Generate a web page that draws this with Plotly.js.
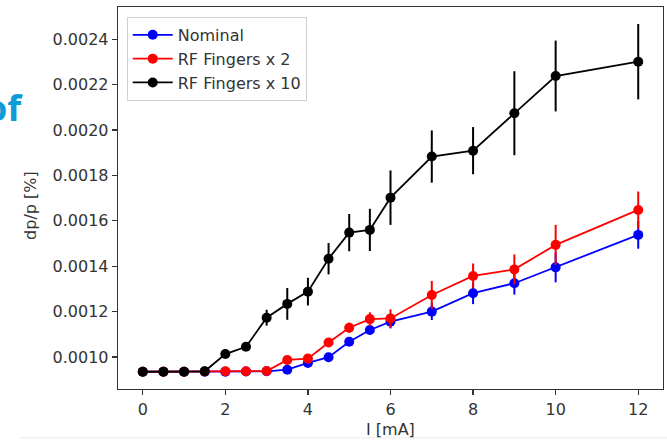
<!DOCTYPE html>
<html>
<head>
<meta charset="utf-8">
<script src="https://cdn.plot.ly/plotly-3.0.1.min.js"></script>
<style>
  html, body { margin: 0; padding: 0; background: #ffffff; }
  #chart { width: 667px; height: 440px; }
</style>
</head>
<body>
<div id="chart"></div>
<script>
// Beam current in mA
const current = [0, 0.5, 1, 1.5, 2, 2.5, 3, 3.5, 4, 4.5, 5, 5.5, 6, 7, 8, 9, 10, 12];

// Energy spread dp/p for each impedance model
const nominal = [0.000935, 0.000935, 0.000935, 0.000935, 0.000935, 0.000936, 0.000937, 0.000944, 0.000974, 0.000999,
                 0.001067, 0.001119, 0.001156, 0.001200, 0.001281, 0.001325, 0.001395, 0.001538];
const nominalErr = [0, 0, 0, 0, 0, 0, 0, 0.000005, 0.000008, 0.00001,
                    0.000012, 0.00002, 0.00003, 0.000037, 0.000048, 0.00005, 0.000066, 0.000061];

const fingers2 = [0.000935, 0.000935, 0.000935, 0.000936, 0.000937, 0.000937, 0.000938, 0.000987, 0.000993, 0.001064,
                  0.001129, 0.001167, 0.001170, 0.001273, 0.001357, 0.001386, 0.001494, 0.001648];
const fingers2Err = [0, 0, 0, 0, 0, 0, 0, 0.00001, 0.00001, 0.000018,
                     0.000022, 0.00003, 0.00004, 0.000062, 0.000055, 0.000066, 0.000088, 0.000081];

const fingers10 = [0.000935, 0.000935, 0.000935, 0.000937, 0.001013, 0.001045, 0.001173, 0.001234, 0.001288, 0.001433,
                   0.001548, 0.001560, 0.001702, 0.001883, 0.001909, 0.002074, 0.002238, 0.002301];
const fingers10Err = [0, 0, 0, 0, 0.000008, 0.00001, 0.000035, 0.00007, 0.000061, 0.000069,
                      0.000082, 0.000093, 0.00012, 0.000115, 0.000104, 0.000185, 0.000156, 0.000166];

const seriesNames = ['Nominal', 'RF Fingers x 2', 'RF Fingers x 10'];
const seriesColors = ['#0000ff', '#ff0000', '#000000'];

const yTicks = [0.0010, 0.0012, 0.0014, 0.0016, 0.0018, 0.0020, 0.0022, 0.0024];
const xTicks = [0, 2, 4, 6, 8, 10, 12];

const FONT = 'DejaVu Sans, sans-serif';

function series(y, err, i) {
  return {
    x: current,
    y: y,
    type: 'scatter',
    mode: 'lines+markers',
    name: seriesNames[i],
    line: { color: seriesColors[i], width: 1.8 },
    marker: { color: seriesColors[i], size: 10 },
    error_y: { type: 'data', array: err, visible: true, color: seriesColors[i], thickness: 2, width: 0 }
  };
}

const data = [
  series(nominal, nominalErr, 0),
  series(fingers2, fingers2Err, 1),
  series(fingers10, fingers10Err, 2)
];

const axisCommon = {
  showgrid: false,
  zeroline: false,
  showline: true,
  mirror: true,
  linecolor: '#333333',
  linewidth: 1.3,
  ticks: 'outside',
  ticklen: 5,
  tickwidth: 1.2,
  tickcolor: '#333333',
  tickfont: { family: FONT, size: 16, color: '#333333' }
};

const layout = {
  width: 667,
  height: 440,
  margin: { l: 118, r: 4, t: 7, b: 51 },
  paper_bgcolor: '#ffffff',
  plot_bgcolor: '#ffffff',
  showlegend: true,
  legend: {
    x: 0.016, y: 0.974, xanchor: 'left', yanchor: 'top',
    bgcolor: '#ffffff',
    bordercolor: '#d0d0d0',
    borderwidth: 1,
    itemwidth: 40,
    font: { family: FONT, size: 16, color: '#333333' },
    tracegroupgap: 0
  },
  xaxis: Object.assign({}, axisCommon, {
    range: [-0.6, 12.6],
    tickvals: xTicks,
    ticktext: xTicks.map(String)
  }),
  yaxis: Object.assign({}, axisCommon, {
    range: [0.000859, 0.002542],
    tickvals: yTicks,
    ticktext: yTicks.map(v => v.toFixed(4))
  }),
  annotations: [
    {
      text: 'I [mA]', xref: 'paper', yref: 'paper',
      x: 0.5, y: -0.105, xanchor: 'center', yanchor: 'middle',
      showarrow: false, font: { family: FONT, size: 16, color: '#333333' }
    },
    {
      text: 'dp/p [%]', xref: 'paper', yref: 'paper',
      x: -0.161, y: 0.48, xanchor: 'center', yanchor: 'middle', textangle: -90,
      showarrow: false, font: { family: FONT, size: 16, color: '#333333' }
    },
    {
      text: '<b>of</b>', xref: 'paper', yref: 'paper',
      x: -0.171, y: 0.738, xanchor: 'right', yanchor: 'middle',
      showarrow: false, font: { family: 'Open Sans, sans-serif', size: 36, color: '#0e9bd9' }
    }
  ],
  shapes: [
    {
      type: 'line', xref: 'paper', yref: 'paper',
      x0: -0.18, x1: 1.01, y0: -0.128, y1: -0.128,
      line: { color: '#ececec', width: 1 }
    }
  ]
};

Plotly.newPlot('chart', data, layout, { displayModeBar: false, staticPlot: true });
</script>
</body>
</html>
